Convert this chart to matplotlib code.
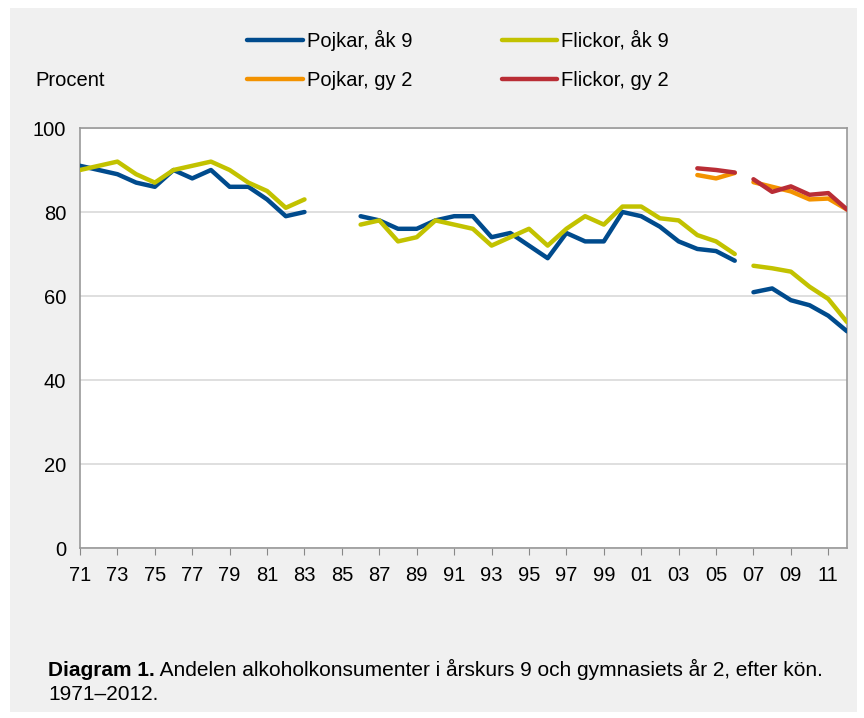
import numpy as np
import matplotlib.pyplot as plt
from matplotlib.patches import Rectangle

plt.rcParams['font.family'] = ['Liberation Sans', 'DejaVu Sans']

years = np.arange(1971, 2013)
nan = np.nan
brott = 2007  # serierna bryts mellan 2006 och 2007

# procent per år 1971-2012 (NaN = ingen mätning)
pojkar_ak9 = [91, 90, 89, 87, 86, 90, 88, 90, 86, 86, 83, 79, 80, nan, nan,
              79, 78, 76, 76, 78, 79, 79, 74, 75, 72, 69, 75, 73, 73, 80,
              79, 76.5, 73, 71.2, 70.7, 68.4, 60.9, 61.8, 59, 57.8, 55.3, 51.6]
flickor_ak9 = [90, 91, 92, 89, 87, 90, 91, 92, 90, 87, 85, 81, 83, nan, nan,
               77, 78, 73, 74, 78, 77, 76, 72, 74, 76, 72, 76, 79, 77, 81.3,
               81.3, 78.5, 78, 74.5, 73, 70, 67.2, 66.6, 65.8, 62.2, 59.3, 53.8]
pojkar_gy2 = [nan] * 33 + [88.8, 88, 89.3, 87.1, 86, 84.9, 83, 83.2, 80.6]
flickor_gy2 = [nan] * 33 + [90.4, 90, 89.4, 87.8, 84.8, 86.1, 84.1, 84.5, 80.6]

series = [
    ('Pojkar, åk 9', pojkar_ak9, '#004b8d'),
    ('Flickor, åk 9', flickor_ak9, '#c2c200'),
    ('Pojkar, gy 2', pojkar_gy2, '#f39200'),
    ('Flickor, gy 2', flickor_gy2, '#b92d35'),
]

fs = 14.5

fig = plt.figure(figsize=(8.64, 7.18), dpi=100, facecolor='white')
fig.patches.append(Rectangle((10 / 864, 6 / 718), 847 / 864, 704 / 718,
                             transform=fig.transFigure, facecolor='#f0f0f0',
                             edgecolor='none', zorder=-5))

ax = fig.add_axes([80 / 864, 1 - 548 / 718, 767 / 864, 420 / 718])
ax.set_facecolor('white')

# lägg in ett NaN vid brottet så att linjen inte dras ihop
i = int(np.searchsorted(years, brott))
x = np.insert(years.astype(float), i, nan)

lines = []
for name, vals, col in series:
    y = np.insert(np.array(vals, dtype=float), i, nan)
    l, = ax.plot(x, y, color=col, lw=3.2, solid_capstyle='round',
                 solid_joinstyle='round', label=name, zorder=3)
    lines.append(l)

ax.set_xlim(1971, 2012)
ax.set_ylim(0, 100)
ax.set_yticks(range(0, 101, 20))
ax.yaxis.grid(True, color='#d9d9d9', lw=1.2)
ax.set_axisbelow(True)
xt = np.arange(1971, 2012, 2)
ax.set_xticks(xt)
ax.set_xticklabels(['%02d' % (y % 100) for y in xt])
ax.tick_params(axis='x', direction='out', length=5,
               color='#888888', labelsize=fs, pad=8)
ax.tick_params(axis='y', length=0, labelsize=fs, pad=10)
for s in ax.spines.values():
    s.set_color('#999999')
    s.set_linewidth(1.2)

fig.text(35 / 864, 1 - 80 / 718, 'Procent', fontsize=fs, va='center')

order = [0, 2, 1, 3]
leg = fig.legend([lines[k] for k in order], [series[k][0] for k in order],
                 ncol=2, loc='center left',
                 bbox_to_anchor=(229 / 864, 1 - 60 / 718),
                 frameon=False, fontsize=fs, handlelength=2.75,
                 handletextpad=0.2, columnspacing=4.45, labelspacing=1.0)

t1 = fig.text(48 / 864, 1 - 676 / 718, 'Diagram 1.', fontsize=15,
              fontweight='bold', va='baseline')
ax.annotate(' Andelen alkoholkonsumenter i årskurs 9 och gymnasiets år 2, efter kön.',
            xy=(1, 0), xycoords=t1, va='bottom', fontsize=15,
            annotation_clip=False)
fig.text(48 / 864, 1 - 700 / 718, '1971–2012.', fontsize=15, va='baseline')

fig.savefig('out.png', dpi=100, facecolor='white')
